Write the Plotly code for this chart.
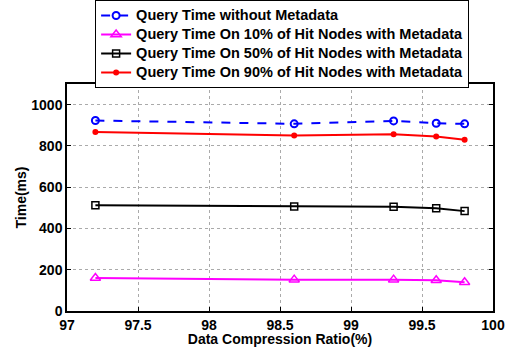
import plotly.graph_objects as go

x_ratio = [97.2, 98.6, 99.3, 99.6, 99.8]
no_meta = [923, 907, 921, 910, 907]
hit10 = [160, 152, 152, 149, 139]
hit50 = [513, 506, 505, 498, 484]
hit90 = [867, 851, 857, 845, 830]

names = ["Query Time without Metadata",
         "Query Time On 10% of Hit Nodes with Metadata",
         "Query Time On 50% of Hit Nodes with Metadata",
         "Query Time On 90% of Hit Nodes with Metadata"]

x_ticks = [97, 97.5, 98, 98.5, 99, 99.5, 100]
y_ticks = [0, 200, 400, 600, 800, 1000]


def big(s):
    return '<span style="font-size:14.5px">' + s + '</span>'


fig = go.Figure()
fig.add_trace(go.Scatter(x=x_ratio, y=no_meta, name=big(names[0]), mode="lines+markers",
                         line=dict(color="#0000ff", width=2, dash="dash"),
                         marker=dict(symbol="circle-open", size=7, color="#0000ff", line=dict(width=2))))
fig.add_trace(go.Scatter(x=x_ratio, y=hit10, name=big(names[1]), mode="lines+markers",
                         line=dict(color="#ff00ff", width=2),
                         marker=dict(symbol="triangle-up-open", size=9, color="#ff00ff", line=dict(width=1.5))))
fig.add_trace(go.Scatter(x=x_ratio, y=hit50, name=big(names[2]), mode="lines+markers",
                         line=dict(color="black", width=2),
                         marker=dict(symbol="square-open", size=7, color="black", line=dict(width=1.5))))
fig.add_trace(go.Scatter(x=x_ratio, y=hit90, name=big(names[3]), mode="lines+markers",
                         line=dict(color="#ff0000", width=2),
                         marker=dict(symbol="circle", size=6, color="#ff0000")))

axis_common = dict(showline=True, linecolor="black", linewidth=1.5, mirror="ticks",
                   ticks="inside", ticklen=4, tickcolor="black",
                   showgrid=True, gridcolor="#aaaaaa", griddash="dot", gridwidth=1,
                   zeroline=False, tickfont=dict(size=14), automargin=False)

fig.update_xaxes(range=[97, 100], tickvals=x_ticks, ticktext=[str(v) for v in x_ticks],
                 title=dict(text="Data Compression Ratio(%)", font=dict(size=14), standoff=0),
                 **axis_common)
fig.update_yaxes(range=[0, 1100], tickvals=y_ticks,
                 title=dict(text="Time(ms)", font=dict(size=14), standoff=1),
                 **axis_common)

fig.update_layout(
    width=511, height=347,
    margin=dict(l=67, r=18, t=84, b=36, autoexpand=False),
    paper_bgcolor="white", plot_bgcolor="white",
    font=dict(family="Liberation Sans, Arial, sans-serif", size=14, color="black", weight="bold"),
    legend=dict(x=0.066, y=1.0, yref="container", xanchor="left", yanchor="top",
                bordercolor="black", borderwidth=1, bgcolor="white",
                font=dict(size=12), tracegroupgap=0, itemwidth=30),
    showlegend=True,
)

fig.write_html("out.html", config={"displayModeBar": False},
               post_script="document.body.style.margin='0px';document.body.style.overflow='hidden';")
